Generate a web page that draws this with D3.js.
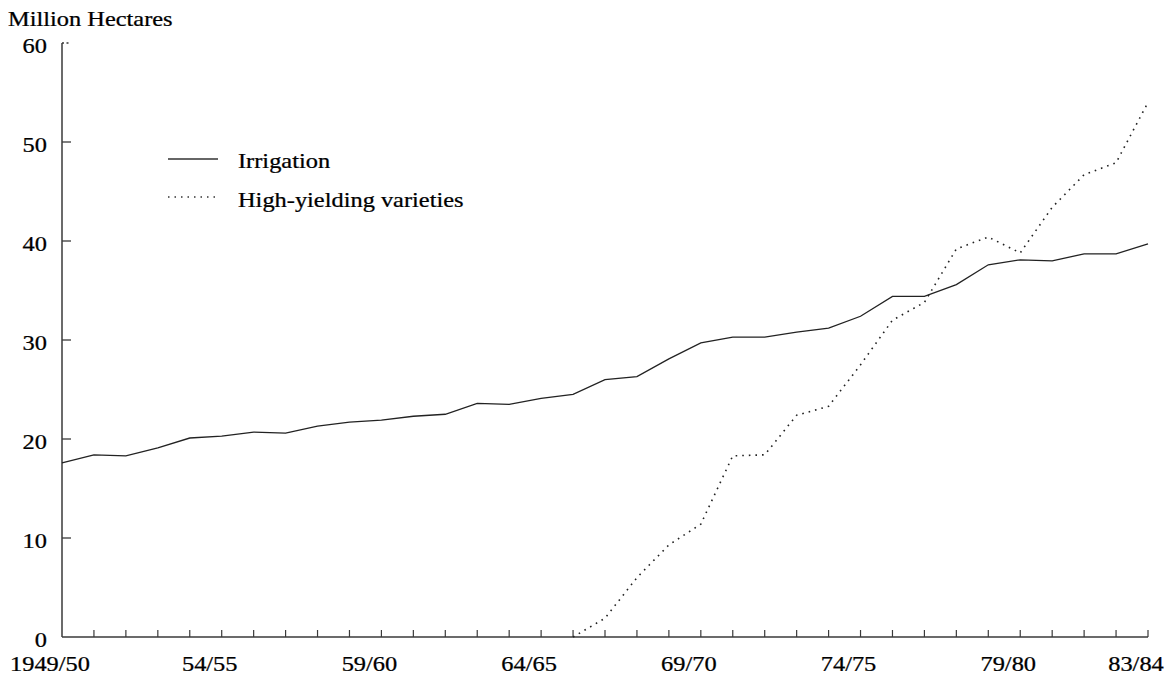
<!DOCTYPE html>
<html>
<head>
<meta charset="utf-8">
<script src="https://cdn.jsdelivr.net/npm/d3@7"></script>
<style>
  body { margin: 0; background: #fff; }
  svg text { font-family: "Liberation Serif", "Times New Roman", serif; fill: #000; stroke: #000; stroke-width: 0.25px; }
</style>
</head>
<body>
<div id="chart"></div>
<script>
// crop years, 1949/50 .. 1983/84
const seasons = [
  "1949/50", "50/51", "51/52", "52/53", "53/54", "54/55", "55/56", "56/57",
  "57/58", "58/59", "59/60", "60/61", "61/62", "62/63", "63/64", "64/65",
  "65/66", "66/67", "67/68", "68/69", "69/70", "70/71", "71/72", "72/73",
  "73/74", "74/75", "75/76", "76/77", "77/78", "78/79", "79/80", "80/81",
  "81/82", "82/83", "83/84"
];
const seasonLabels = ["1949/50", "54/55", "59/60", "64/65", "69/70", "74/75", "79/80", "83/84"];

// million hectares
const irrigation = [
  17.6, 18.4, 18.3, 19.1, 20.1, 20.3, 20.7, 20.6, 21.3, 21.7,
  21.9, 22.3, 22.5, 23.6, 23.5, 24.1, 24.5, 26.0, 26.3, 28.1,
  29.7, 30.3, 30.3, 30.8, 31.2, 32.4, 34.4, 34.4, 35.6, 37.6,
  38.1, 38.0, 38.7, 38.7, 39.7
];
const hyv = [
  null, null, null, null, null, null, null, null, null, null,
  null, null, null, null, null, null, 0, 1.9, 6.0, 9.3,
  11.4, 18.3, 18.4, 22.4, 23.3, 27.5, 32.0, 33.8, 39.2, 40.4,
  38.8, 43.4, 46.7, 47.9, 54.0
];
const yTicks = [0, 10, 20, 30, 40, 50, 60];

const width = 1174;
const height = 679;
const margin = { top: 43, right: 26, bottom: 42, left: 62 };
const stretch = 1.22; // the type in the original is wide

const svg = d3.select("#chart")
  .append("svg")
  .attr("width", width)
  .attr("height", height);

const x = d3.scalePoint()
  .domain(seasons)
  .range([margin.left, width - margin.right]);

const y = d3.scaleLinear()
  .domain([0, 60])
  .range([height - margin.bottom, margin.top]);

function label(g, tx, ty, txt, anchor) {
  return g.append("text")
    .attr("transform", "translate(" + tx + "," + ty + ") scale(" + stretch + ",1)")
    .attr("text-anchor", anchor)
    .style("font-size", "20px")
    .text(txt);
}

// axes
const axisColor = "#3a3a3a";
svg.append("line")
  .attr("x1", x(seasons[0])).attr("x2", x(seasons[0]))
  .attr("y1", y(60)).attr("y2", y(0))
  .attr("stroke", axisColor).attr("stroke-width", 1.5);
svg.append("line")
  .attr("x1", x(seasons[0])).attr("x2", x(seasons[seasons.length - 1]))
  .attr("y1", y(0)).attr("y2", y(0))
  .attr("stroke", axisColor).attr("stroke-width", 1.5);

yTicks.forEach(function(t) {
  if (t > 0) {
    svg.append("line")
      .attr("x1", x(seasons[0])).attr("x2", x(seasons[0]) + 9)
      .attr("y1", y(t)).attr("y2", y(t))
      .attr("stroke", axisColor).attr("stroke-width", 1.3)
      .attr("stroke-dasharray", t === 60 ? "2,2.5" : null);
  }
  label(svg, 47, y(t) + 10, t, "end");
});

seasons.forEach(function(s, i) {
  if (i === 0) return;
  svg.append("line")
    .attr("x1", x(s)).attr("x2", x(s))
    .attr("y1", y(0)).attr("y2", y(0) - 7)
    .attr("stroke", axisColor).attr("stroke-width", 1.2);
});

seasonLabels.forEach(function(s) {
  label(svg, x(s) - 12, 671, s, "middle");
});

label(svg, 8, 26, "Million Hectares", "start");

// lines
const line = d3.line()
  .defined(function(d) { return d != null; })
  .x(function(d, i) { return x(seasons[i]); })
  .y(function(d) { return y(d); });

svg.append("path")
  .datum(irrigation)
  .attr("fill", "none")
  .attr("stroke", "#222")
  .attr("stroke-width", 1.3)
  .attr("d", line);

svg.append("path")
  .datum(hyv)
  .attr("fill", "none")
  .attr("stroke", "#222")
  .attr("stroke-width", 1.6)
  .attr("stroke-dasharray", "1.6,5")
  .attr("d", line);

// legend
const legend = svg.append("g");
legend.append("line")
  .attr("x1", 168).attr("x2", 218).attr("y1", 159).attr("y2", 159)
  .attr("stroke", "#333").attr("stroke-width", 1.3);
label(legend, 238, 168, "Irrigation", "start");
legend.append("line")
  .attr("x1", 168).attr("x2", 218).attr("y1", 197).attr("y2", 197)
  .attr("stroke", "#333").attr("stroke-width", 1.4)
  .attr("stroke-dasharray", "1.5,5");
label(legend, 238, 207, "High-yielding varieties", "start");
</script>
</body>
</html>
